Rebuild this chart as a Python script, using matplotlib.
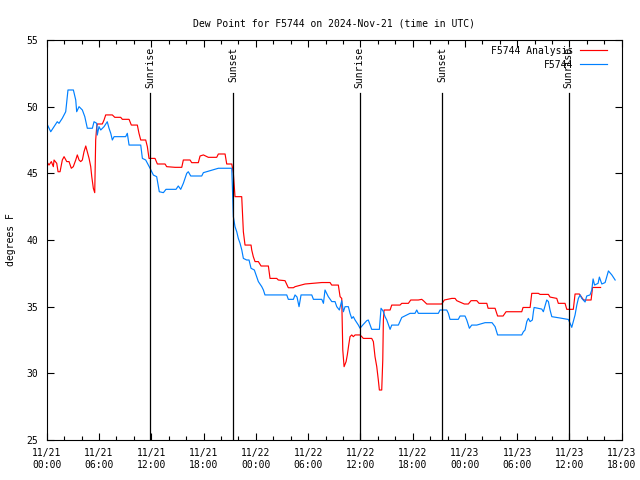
import pandas as pd
import matplotlib
matplotlib.use("Agg")
import matplotlib.pyplot as plt
import matplotlib.dates as mdates
from matplotlib.transforms import blended_transform_factory

# Time axis: hours after 2024-11-21 00:00 UTC
start = pd.Timestamp("2024-11-21 00:00")
end = pd.Timestamp("2024-11-23 18:00")

# F5744 observations
obs_hours = [
    0.0, 0.46, 0.84, 1.21, 1.41, 1.79, 2.18, 2.44, 3.06, 3.33, 3.44, 3.71, 4.09,
    4.37, 4.66, 5.24, 5.43, 5.74, 5.80, 6.0, 6.2, 6.58, 6.95, 7.15, 7.35, 7.53,
    7.73, 9.06, 9.25, 9.45, 10.79, 10.98, 11.36, 11.86, 12.24, 12.62, 12.92,
    13.39, 13.69, 14.84, 15.1, 15.38, 15.68, 16.07, 16.25, 16.53, 17.79, 17.98,
    19.7, 21.24, 21.35, 21.42, 21.61, 21.81, 21.99, 22.19, 22.39, 22.57, 22.95,
    23.22, 23.45, 23.83, 24.1, 24.29, 24.68, 24.87, 25.05, 27.55, 27.73, 28.31,
    28.5, 28.73, 28.96, 29.19, 30.42, 30.61, 31.57, 31.76, 31.94, 32.32, 32.72,
    33.09, 33.29, 33.59, 33.86, 34.05, 34.24, 34.62, 34.81, 35.01, 35.19, 35.39,
    35.77, 35.96, 36.27, 36.73, 36.91, 37.3, 38.18, 38.37, 38.6, 38.83, 39.03,
    39.41, 39.6, 40.36, 40.75, 41.32, 41.7, 42.27, 42.47, 42.65, 44.95, 45.14,
    45.91, 46.1, 46.29, 47.24, 47.44, 48.01, 48.21, 48.51, 48.78, 49.36, 50.31,
    51.11, 51.46, 51.75, 54.52, 54.71, 54.9, 55.1, 55.28, 55.48, 55.74, 55.86,
    55.94, 56.82, 57.0, 57.39, 57.58, 57.77, 57.97, 58.92, 59.87, 60.07, 60.26,
    60.44, 60.64, 60.84, 61.02, 61.22, 61.41, 61.79, 61.98, 62.36, 62.56, 62.71,
    62.88, 63.28, 63.43, 63.71, 64.09, 64.47, 64.86, 65.24,
]
obs_dewpoint = [
    48.75, 48.12, 48.5, 48.87, 48.75, 49.13, 49.62, 51.25, 51.25, 50.5, 49.62,
    50.0, 49.75, 49.25, 48.38, 48.38, 48.87, 48.75, 47.87, 48.5, 48.25, 48.5,
    48.87, 48.38, 48.0, 47.5, 47.75, 47.75, 48.0, 47.12, 47.12, 46.12, 46.0,
    45.38, 44.87, 44.75, 43.62, 43.55, 43.8, 43.8, 44.05, 43.8, 44.25, 45.0,
    45.12, 44.8, 44.8, 45.05, 45.38, 45.38, 43.0, 41.75, 41.0, 40.62, 40.12,
    39.75, 39.25, 38.62, 38.5, 38.5, 37.88, 37.75, 37.25, 36.88, 36.5, 36.25,
    35.88, 35.88, 35.55, 35.55, 35.88, 35.72, 35.0, 35.88, 35.88, 35.55, 35.55,
    35.25, 36.25, 35.75, 35.38, 35.38, 35.0, 34.75, 35.45, 34.62, 35.0, 35.0,
    34.5, 34.12, 34.25, 34.0, 33.62, 33.38, 33.62, 33.95, 34.0, 33.3, 33.3,
    34.88, 34.68, 34.25, 34.0, 33.3, 33.62, 33.62, 34.19, 34.38, 34.5, 34.5,
    34.75, 34.5, 34.5, 34.75, 34.75, 34.5, 34.05, 34.05, 34.3, 34.3, 34.0,
    33.38, 33.62, 33.62, 33.8, 33.8, 33.5, 32.88, 32.88, 33.12, 33.25, 33.88,
    34.12, 33.88, 34.0, 34.62, 34.94, 34.82, 34.62, 35.5, 35.38, 34.75, 34.25,
    34.15, 34.04, 33.75, 33.45, 33.88, 34.38, 35.12, 35.62, 35.88, 35.62, 35.35,
    35.8, 35.88, 36.25, 37.08, 36.62, 36.75, 37.22, 36.7, 36.81, 37.68, 37.38,
    37.0,
]

# F5744 Analysis
ana_hours = [
    0.0, 0.26, 0.53, 0.76, 0.84, 1.15, 1.3, 1.53, 1.79, 1.99, 2.3, 2.56, 2.82,
    3.05, 3.33, 3.51, 3.71, 3.9, 4.09, 4.28, 4.48, 4.66, 4.86, 5.05, 5.17, 5.35,
    5.51, 5.62, 5.74, 5.81, 6.38, 6.58, 6.77, 7.53, 7.81, 8.49, 8.68, 9.45,
    9.71, 10.4, 10.59, 10.79, 11.36, 11.55, 11.74, 12.43, 12.7, 13.58, 13.77,
    14.73, 15.5, 15.68, 16.45, 16.64, 17.4, 17.6, 17.98, 18.55, 19.51, 19.7,
    20.47, 20.66, 21.24, 21.42, 21.61, 22.38, 22.57, 22.76, 23.45, 23.53, 23.71,
    23.91, 24.29, 24.6, 25.44, 25.63, 26.4, 26.58, 27.35, 27.73, 28.31, 28.5,
    29.65, 31.57, 32.52, 32.71, 33.47, 33.67, 33.86, 33.98, 34.13, 34.36, 34.5,
    34.66, 34.81, 35.01, 35.19, 35.39, 35.96, 36.16, 36.34, 37.3, 37.49, 37.68,
    37.88, 38.06, 38.18, 38.45, 38.57, 38.64, 38.72, 39.41, 39.6, 40.55, 40.75,
    41.51, 41.78, 42.65, 43.04, 43.23, 43.62, 45.34, 45.64, 46.49, 46.87, 47.06,
    47.93, 48.39, 48.7, 49.36, 49.62, 50.51, 50.66, 51.46, 51.75, 52.38, 52.72,
    54.52, 54.67, 55.48, 55.67, 56.43, 56.62, 57.58, 57.77, 58.54, 58.72, 59.49,
    59.69, 60.44, 60.64, 61.13, 61.41, 61.62, 62.48, 62.65, 63.57,
]
ana_dewpoint = [
    45.88, 45.62, 45.88, 45.5, 46.0, 45.75, 45.12, 45.12, 46.0, 46.25, 45.88,
    45.88, 45.38, 45.5, 46.0, 46.38, 46.0, 45.88, 46.0, 46.62, 47.05, 46.62,
    46.12, 45.5, 44.75, 43.88, 43.55, 47.5, 48.5, 48.7, 48.7, 49.0, 49.38,
    49.38, 49.2, 49.2, 49.05, 49.05, 48.62, 48.62, 48.0, 47.5, 47.5, 47.0,
    46.12, 46.12, 45.7, 45.7, 45.5, 45.45, 45.45, 46.0, 46.0, 45.8, 45.8, 46.3,
    46.38, 46.2, 46.2, 46.45, 46.45, 45.7, 45.7, 45.0, 43.25, 43.25, 40.62,
    39.62, 39.62, 39.25, 38.75, 38.38, 38.38, 38.05, 38.05, 37.12, 37.12, 37.0,
    36.95, 36.42, 36.42, 36.5, 36.7, 36.81, 36.81, 36.62, 36.62, 35.75, 35.62,
    31.75, 30.5, 30.88, 31.38, 32.12, 32.75, 32.88, 32.75, 32.88, 32.88, 32.75,
    32.62, 32.62, 32.38, 31.25, 30.5, 29.5, 28.75, 28.75, 31.0, 34.0, 34.75,
    34.75, 35.12, 35.12, 35.25, 35.25, 35.5, 35.5, 35.55, 35.45, 35.2, 35.2,
    35.5, 35.62, 35.62, 35.45, 35.2, 35.2, 35.45, 35.45, 35.25, 35.25, 34.88,
    34.88, 34.3, 34.3, 34.62, 34.62, 34.94, 34.94, 36.0, 36.0, 35.92, 35.92,
    35.72, 35.62, 35.25, 35.25, 34.8, 34.8, 35.95, 35.95, 35.69, 35.5, 35.5,
    36.44, 36.44,
]

# Sunrise / sunset markers (hours after start)
event_hours = [11.88, 21.41, 35.93, 45.39, 59.91]
event_labels = ["Sunrise", "Sunset", "Sunrise", "Sunset", "Sunrise"]

obs_time = start + pd.to_timedelta(obs_hours, unit="h")
ana_time = start + pd.to_timedelta(ana_hours, unit="h")
event_time = start + pd.to_timedelta(event_hours, unit="h")

plt.rcParams["font.family"] = "DejaVu Sans Mono"
plt.rcParams["font.size"] = 7

fig = plt.figure(figsize=(6.4, 4.8), dpi=100)
ax = fig.add_axes([0.073, 0.0833, 0.8985, 0.8334])

ax.plot(ana_time, ana_dewpoint, color="#ff0000", lw=0.85, label="F5744 Analysis")
ax.plot(obs_time, obs_dewpoint, color="#0080ff", lw=0.85, label="F5744")

# Sunrise / sunset lines with rotated labels
trans = blended_transform_factory(ax.transData, ax.transAxes)
for t, lab in zip(event_time, event_labels):
    ax.plot([t, t], [0, 0.867], color="black", lw=0.9, transform=trans)
    ax.text(t, 0.983, lab, rotation=90, ha="center", va="top", transform=trans)

ax.set_xlim(start, end)
ax.set_ylim(25, 55)
ax.set_yticks(range(25, 56, 5))
ax.xaxis.set_major_locator(mdates.HourLocator(byhour=[0, 6, 12, 18]))
ax.xaxis.set_minor_locator(mdates.HourLocator(byhour=range(0, 24, 2)))
ax.xaxis.set_major_formatter(mdates.DateFormatter("%m/%d\n%H:%M"))
ax.tick_params(which="both", direction="in", top=True, right=True, width=0.8)
ax.tick_params(which="major", length=5, pad=6)
ax.tick_params(which="minor", length=3)
for s in ax.spines.values():
    s.set_linewidth(0.8)

ax.set_title("Dew Point for F5744 on 2024-Nov-21 (time in UTC)", fontsize=7, pad=10)
ax.set_ylabel("degrees F", labelpad=8)

ax.legend(loc="upper right", bbox_to_anchor=(0.984, 1.0), frameon=False,
          markerfirst=False, handlelength=2.8, handletextpad=0.6,
          borderaxespad=0.2, labelspacing=0.4, fontsize=7)

fig.savefig("out.png", dpi=100)
